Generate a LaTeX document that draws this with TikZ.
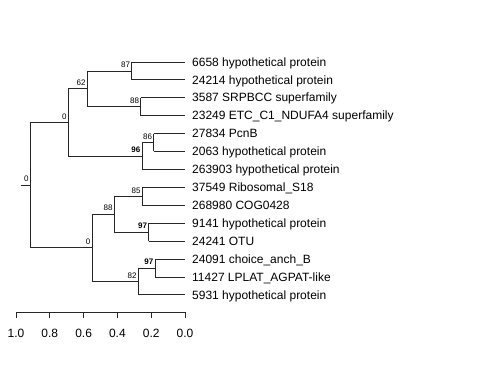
\documentclass[tikz,border=0pt]{standalone}
\usepackage{fontspec}
\setmainfont{Liberation Sans}
\begin{document}
\begin{tikzpicture}[x=1pt,y=-1pt,
  edge/.style={line width=0.7pt,black!85},
  leaf/.style={anchor=base west,inner sep=0pt,font=\fontsize{12}{14}\selectfont},
  blab/.style={anchor=base east,inner sep=0pt,font=\fontsize{8}{9}\selectfont},
  bblab/.style={anchor=base east,inner sep=0pt,font=\fontsize{8}{9}\selectfont\bfseries},
  tlab/.style={anchor=base,inner sep=0pt,font=\fontsize{12}{14}\selectfont}]
\useasboundingbox (0,0) rectangle (480,384);
% leaves
\coordinate (l1) at (185,62);
\coordinate (l2) at (185,79.7);
\coordinate (l3) at (185,97.6);
\coordinate (l4) at (185,115.6);
\coordinate (l5) at (185,133.5);
\coordinate (l6) at (185,151.4);
\coordinate (l7) at (185,169.3);
\coordinate (l8) at (185,187.3);
\coordinate (l9) at (185,205.2);
\coordinate (l10) at (185,223.1);
\coordinate (l11) at (185,241);
\coordinate (l12) at (185,259);
\coordinate (l13) at (185,276.9);
\coordinate (l14) at (185,294.8);
% internal nodes
\coordinate (n87) at (131.7,70.85);
\coordinate (n88a) at (140.7,106.6);
\coordinate (n62) at (87.3,88.7);
\coordinate (n86) at (153.7,142.45);
\coordinate (n96) at (142,155.9);
\coordinate (n0a) at (68.3,122.3);
\coordinate (n85) at (142.3,196.25);
\coordinate (n97a) at (148.7,232);
\coordinate (n88b) at (114.3,214.1);
\coordinate (n97b) at (155,268);
\coordinate (n82) at (138.3,281.4);
\coordinate (n0b) at (92,247.75);
\coordinate (root) at (30.3,185);
\coordinate (rstub) at (20.7,185);
% edges: parent vertical + horizontal to children
\newcommand{\clade}[3]{\draw[edge] (#1 |- #2) -- (#1 |- #3); \draw[edge] (#1 |- #2) -- (#2); \draw[edge] (#1 |- #3) -- (#3);}
\clade{n87}{l1}{l2}
\clade{n88a}{l3}{l4}
\clade{n62}{n87}{n88a}
\clade{n86}{l5}{l6}
\clade{n96}{n86}{l7}
\clade{n0a}{n62}{n96}
\clade{n85}{l8}{l9}
\clade{n97a}{l10}{l11}
\clade{n88b}{n85}{n97a}
\clade{n97b}{l12}{l13}
\clade{n82}{n97b}{l14}
\clade{n0b}{n88b}{n82}
\clade{root}{n0a}{n0b}
\draw[edge] (rstub) -- (root);
% leaf labels
\node[leaf] (t1) at (192,66.3) {6658 hypothetical protein};
\node[leaf] (t2) at (192,84) {24214 hypothetical protein};
\node[leaf] (t3) at (192,101.9) {3587 SRPBCC superfamily};
\node[leaf] (t4) at (192,119.9) {23249 ETC\_C1\_NDUFA4 superfamily};
\node[leaf] (t5) at (192,137.8) {27834 PcnB};
\node[leaf] (t6) at (192,155.7) {2063 hypothetical protein};
\node[leaf] (t7) at (192,173.6) {263903 hypothetical protein};
\node[leaf] (t8) at (192,191.6) {37549 Ribosomal\_S18};
\node[leaf] (t9) at (192,209.5) {268980 COG0428};
\node[leaf] (t10) at (192,227.4) {9141 hypothetical protein};
\node[leaf] (t11) at (192,245.3) {24241 OTU};
\node[leaf] (t12) at (192,263.3) {24091 choice\_anch\_B};
\node[leaf] (t13) at (192,281.2) {11427 LPLAT\_AGPAT-like};
\node[leaf] (t14) at (192,299.1) {5931 hypothetical protein};
% branch support labels
\node[blab] (b87) at (130.2,67.6) {87};
\node[blab] (b88a) at (139.2,103.4) {88};
\node[blab] (b62) at (85.8,85.5) {62};
\node[blab] (b86) at (152.2,139.2) {86};
\node[bblab] (b96) at (140.5,152.7) {96};
\node[blab] (b0a) at (66.8,119.1) {0};
\node[blab] (b85) at (140.8,193) {85};
\node[bblab] (b97a) at (147.2,228.8) {97};
\node[blab] (b88b) at (112.8,210.9) {88};
\node[bblab] (b97b) at (153.5,264.8) {97};
\node[blab] (b82) at (136.8,278.2) {82};
\node[blab] (b0b) at (90.5,244.5) {0};
\node[blab] (broot) at (28.8,181.8) {0};
% axis
\coordinate (a0) at (16,312);
\coordinate (a1) at (185,312);
\draw[edge] (a0) -- (a1);
\foreach \v/\lab [count=\i] in {0/1.0,1/0.8,2/0.6,3/0.4,4/0.2,5/0.0}{
  \draw[edge] (16+33.8*\v,312) -- (16+33.8*\v,318.3);
  \node[tlab] (ax\i) at (16+33.8*\v,337.3) {\lab};
}
\end{tikzpicture}
\end{document}
